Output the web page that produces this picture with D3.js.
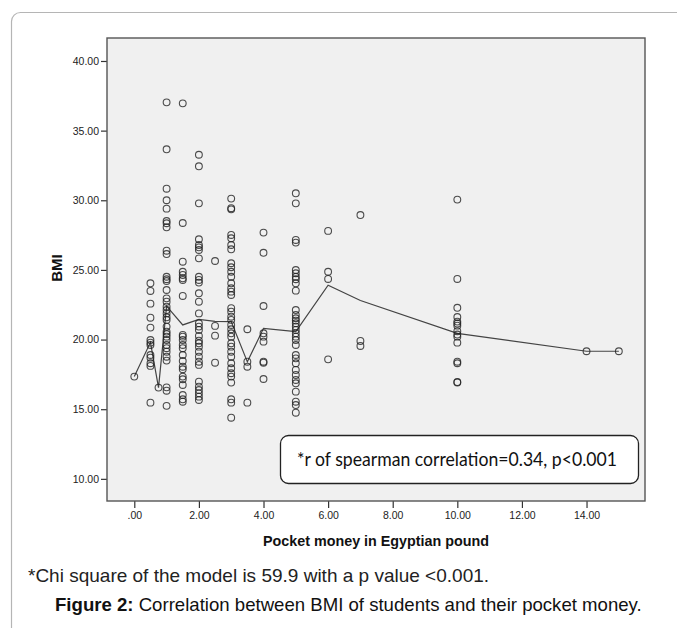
<!DOCTYPE html>
<html>
<head>
<meta charset="utf-8">
<script src="https://cdn.jsdelivr.net/npm/d3@7"></script>
<style>
  body { margin: 0; background: #fff; }
  svg { display: block; }
</style>
</head>
<body>
<svg id="chart"></svg>
<script>
const W = 677, H = 628;

// pocket money levels (x) and the BMI readings seen at each level
const moneyLevels = [0, 0.5, 0.75, 1, 1.5, 2, 2.5, 3, 3.5, 4, 5, 6, 7, 10, 14, 15];
const bmiByLevel = [
  [17.34],
  [24.04, 23.49, 22.58, 21.57, 20.86, 19.97, 19.78, 19.61, 18.89, 18.70, 18.30, 18.11, 15.47],
  [16.55],
  [37.03, 33.66, 30.83, 30.0, 29.4, 28.51, 28.35, 28.06, 26.38, 26.14, 24.51, 24.33, 24.2, 23.56, 22.96, 22.72, 22.36,
   22.12, 21.88, 21.6, 21.41, 20.93, 20.57, 20.4, 20.21, 19.97, 19.61, 19.38, 19.13, 18.77, 18.49, 16.57, 16.33, 15.24],
  [36.96, 28.37, 25.59, 24.87, 24.64, 24.4, 24.28, 23.13, 20.33, 20.21, 19.97, 19.61, 19.38, 18.89, 18.46, 18.05,
   17.87, 17.34, 17.15, 16.74, 16.02, 15.71, 15.54],
  [33.27, 32.44, 29.78, 27.2, 26.79, 26.62, 26.43, 25.83, 24.51, 24.28, 24.09, 23.32, 22.72, 21.88, 21.17, 20.93,
   20.69, 20.26, 19.92, 19.73, 19.49, 19.13, 18.77, 18.41, 18.18, 16.98, 16.62, 16.38, 16.14, 15.9, 15.66],
  [25.64, 20.98, 20.28, 18.34],
  [30.12, 29.43, 29.35, 27.51, 27.27, 26.79, 26.48, 25.48, 25.19, 24.87, 24.51, 24.04, 23.68, 23.44, 23.2, 22.25,
   22.0, 21.64, 21.41, 21.05, 20.74, 20.45, 20.21, 19.73, 19.49, 19.13, 18.77, 18.3, 17.94, 17.58, 17.34, 16.91,
   15.71, 15.47, 14.39],
  [20.74, 18.41, 18.05, 15.47],
  [27.68, 26.23, 22.41, 20.45, 20.21, 19.85, 18.41, 18.34, 17.17],
  [30.5, 29.78, 27.15, 26.96, 24.99, 24.76, 24.51, 24.33, 24.04, 23.51, 22.12, 21.76, 21.53, 21.36, 21.17, 20.93,
   20.69, 20.45, 20.21, 19.97, 19.61, 18.89, 18.65, 18.3, 17.82, 17.46, 17.1, 16.86, 16.26, 15.54, 15.3, 14.75],
  [27.8, 24.87, 24.35, 18.58],
  [28.94, 19.9, 19.54],
  [30.05, 24.35, 22.28, 21.62, 21.29, 21.15, 21.0, 20.6, 20.36, 20.21, 19.78, 18.41, 18.3, 16.95, 16.92],
  [19.16],
  [19.16]
];
// mean line drawn through the levels
const meanBmi = [17.34, 19.8, 16.55, 22.4, 21.05, 21.45, 21.3, 21.29, 18.4, 20.81, 20.57, 23.9, 22.8, 20.45, 19.16, 19.16];

const xTicks = [0, 2, 4, 6, 8, 10, 12, 14];
const yTicks = [10, 15, 20, 25, 30, 35, 40];

const points = moneyLevels.flatMap((m, i) => bmiByLevel[i].map(b => ({money: m, bmi: b})));
const means = moneyLevels.map((m, i) => ({money: m, bmi: meanBmi[i]}));

const plot = {left: 107, right: 645, top: 38, bottom: 501};

const svg = d3.select("#chart").attr("width", W).attr("height", H);

// card border (runs off the right and bottom edges)
svg.append("rect")
  .attr("x", 11.5).attr("y", 12.5)
  .attr("width", 720).attr("height", 660)
  .attr("rx", 9)
  .attr("fill", "none")
  .attr("stroke", "#b5b5b5")
  .attr("stroke-width", 1.2);

const xScale = d3.scaleLinear().domain([-0.845, 15.81]).range([plot.left, plot.right]);
const yScale = d3.scaleLinear().domain([8.41, 41.65]).range([plot.bottom, plot.top]);

svg.append("rect")
  .attr("x", plot.left).attr("y", plot.top)
  .attr("width", plot.right - plot.left).attr("height", plot.bottom - plot.top)
  .attr("fill", "#f0f0f0");

const fmt = d => d === 0 ? ".00" : d3.format(".2f")(d);

const xAxis = svg.append("g")
  .attr("transform", `translate(0, ${plot.bottom})`)
  .call(d3.axisBottom(xScale).tickValues(xTicks).tickFormat(fmt).tickSize(7).tickSizeOuter(0).tickPadding(4));
const yAxis = svg.append("g")
  .attr("transform", `translate(${plot.left}, 0)`)
  .call(d3.axisLeft(yScale).tickValues(yTicks).tickFormat(fmt).tickSize(6).tickSizeOuter(0).tickPadding(2));

[xAxis, yAxis].forEach(g => {
  g.select(".domain").remove();
  g.selectAll(".tick line").attr("stroke", "#333").attr("stroke-width", 1.2);
  g.selectAll(".tick text")
    .attr("fill", "#222")
    .style("font-family", "'Liberation Sans', Arial, sans-serif")
    .style("font-size", "10.5px");
});

// plot frame
svg.append("rect")
  .attr("x", plot.left).attr("y", plot.top)
  .attr("width", plot.right - plot.left).attr("height", plot.bottom - plot.top)
  .attr("fill", "none")
  .attr("stroke", "#555")
  .attr("stroke-width", 1.4);

// mean line
svg.append("path")
  .datum(means)
  .attr("fill", "none")
  .attr("stroke", "#444")
  .attr("stroke-width", 1.2)
  .attr("d", d3.line().x(d => xScale(d.money)).y(d => yScale(d.bmi)));

svg.append("g").selectAll("circle")
  .data(points)
  .enter()
  .append("circle")
  .attr("cx", d => xScale(d.money))
  .attr("cy", d => yScale(d.bmi))
  .attr("r", 3.4)
  .attr("fill", "none")
  .attr("stroke", "#222")
  .attr("stroke-opacity", 0.8)
  .attr("stroke-width", 1.1);

// annotation box
svg.append("rect")
  .attr("x", 280.5).attr("y", 435.5)
  .attr("width", 358).attr("height", 48)
  .attr("rx", 8)
  .attr("fill", "#fff")
  .attr("stroke", "#222")
  .attr("stroke-width", 1.3);
svg.append("text")
  .attr("x", 297).attr("y", 466)
  .attr("textLength", 320).attr("lengthAdjust", "spacingAndGlyphs")
  .style("font-family", "Lato, 'Open Sans', sans-serif")
  .style("font-size", "20px")
  .attr("fill", "#111")
  .text("*r of spearman correlation=0.34, p<0.001");

// axis titles
svg.append("text")
  .attr("transform", "translate(62, 268) rotate(-90)")
  .attr("text-anchor", "middle")
  .style("font-family", "'Liberation Sans', Arial, sans-serif")
  .style("font-weight", "bold")
  .style("font-size", "15px")
  .attr("fill", "#111")
  .text("BMI");

svg.append("text")
  .attr("x", 376).attr("y", 546)
  .attr("text-anchor", "middle")
  .attr("textLength", 226).attr("lengthAdjust", "spacingAndGlyphs")
  .style("font-family", "'Liberation Sans', Arial, sans-serif")
  .style("font-weight", "bold")
  .style("font-size", "14.5px")
  .attr("fill", "#111")
  .text("Pocket money in Egyptian pound");

// footnote and caption
svg.append("text")
  .attr("x", 28).attr("y", 582)
  .style("font-family", "'Liberation Sans', Arial, sans-serif")
  .style("font-size", "19px")
  .attr("fill", "#222")
  .text("*Chi square of the model is 59.9 with a p value <0.001.");

const cap = svg.append("text")
  .attr("x", 55).attr("y", 611)
  .style("font-family", "'Liberation Sans', Arial, sans-serif")
  .style("font-size", "18.6px")
  .attr("fill", "#111");
cap.append("tspan").style("font-weight", "bold").text("Figure 2:");
cap.append("tspan").text(" Correlation between BMI of students and their pocket money.");
</script>
</body>
</html>
